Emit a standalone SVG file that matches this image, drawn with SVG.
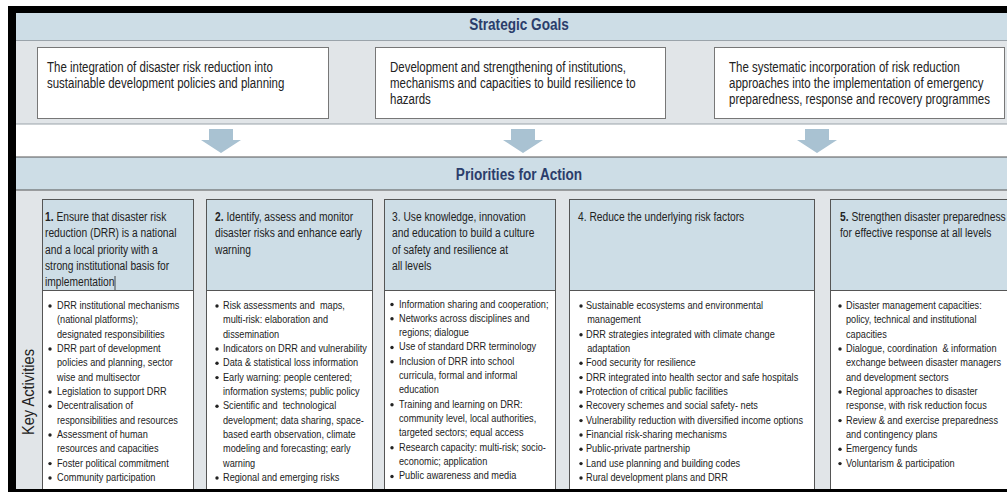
<svg xmlns="http://www.w3.org/2000/svg" width="1007" height="492" viewBox="0 0 1007 492">
<style>
.t{font-family:'Liberation Sans',Arial,sans-serif;fill:#222}
.goal{font-size:14px}
.hd{font-size:12.5px}
.li{font-size:11.2px}
.title{font-family:'Liberation Sans',Arial,sans-serif;font-size:17px;font-weight:bold;fill:#2b3d6b;text-anchor:middle}
.band{fill:#cddde6}
.gbox{fill:#fff;stroke:#777;stroke-width:1}
.phead{fill:#cddde6;stroke:#555;stroke-width:1}
.plist{fill:#fff;stroke:#555;stroke-width:1}
.arrow{fill:#a9c2d2}
.b{fill:#222}
</style>
<defs>
<circle id="bul" r="1.7" class="b"/>
</defs>
<rect x="0" y="0" width="1007" height="492" fill="#fff"/>
<g id="frame">
<rect x="8" y="6" width="999" height="486" fill="#000"/>
<rect x="16" y="13" width="991" height="476" fill="#e1e5e8"/>
<rect x="16" y="13" width="991" height="27" class="band"/>
<line x1="16" y1="40.5" x2="1007" y2="40.5" stroke="#9aa3aa"/>
<rect x="16" y="124" width="991" height="33" fill="#fff"/>
<line x1="16" y1="124" x2="1007" y2="124" stroke="#9aa3aa"/>
<rect x="16" y="157" width="991" height="33" class="band"/>
<line x1="16" y1="157" x2="1007" y2="157" stroke="#555"/>
<line x1="16" y1="190" x2="1007" y2="190" stroke="#555"/>
<text class="title" transform="translate(519,30) scale(0.8,1)">Strategic Goals</text>
<text class="title" transform="translate(519,180) scale(0.8,1)">Priorities for Action</text>
<text class="t" font-size="17" fill="#333" text-anchor="middle" transform="translate(34,392) rotate(-90) scale(0.86,1)">Key Activities</text>
</g>
<g id="goal-1">
<rect x="37.5" y="47.5" width="291" height="71" class="gbox"/>
<text class="t goal" transform="translate(47,71.5) scale(0.82,1)"><tspan x="0">The integration of disaster risk reduction into</tspan><tspan x="0" dy="16.5">sustainable development policies and planning</tspan></text>
</g>
<g id="goal-2">
<rect x="375.5" y="47.5" width="290" height="71" class="gbox"/>
<text class="t goal" transform="translate(390,71.5) scale(0.82,1)"><tspan x="0">Development and strengthening of institutions,</tspan><tspan x="0" dy="16.5">mechanisms and capacities to build resilience to</tspan><tspan x="0" dy="16.5">hazards</tspan></text>
</g>
<g id="goal-3">
<rect x="714.5" y="47.5" width="290" height="71" class="gbox"/>
<text class="t goal" transform="translate(729,71.5) scale(0.82,1)"><tspan x="0">The systematic incorporation of risk reduction</tspan><tspan x="0" dy="16.5">approaches into the implementation of emergency</tspan><tspan x="0" dy="16.5">preparedness, response and recovery programmes</tspan></text>
</g>
<g id="connectors">
<path class="arrow" d="M209,129 H233 V140 H241 L221,153 L201,140 H209 Z"/>
<path class="arrow" d="M511,129 H535 V140 H543 L523,153 L503,140 H511 Z"/>
<path class="arrow" d="M805,129 H829 V140 H837 L817,153 L797,140 H805 Z"/>
</g>
<g id="priority-1">
<rect x="42.5" y="199.5" width="151" height="91" class="phead"/>
<rect x="42.5" y="290.5" width="151" height="200" class="plist"/>
<text class="t hd" transform="translate(45,221) scale(0.82,1)"><tspan x="0" font-weight="bold">1.</tspan><tspan> Ensure that disaster risk</tspan><tspan x="0" dy="16.3">reduction (DRR) is a national</tspan><tspan x="0" dy="16.3">and a local priority with a</tspan><tspan x="0" dy="16.3">strong institutional basis for</tspan><tspan x="0" dy="16.3">implementation</tspan></text>
<line x1="115" y1="276" x2="115" y2="290" stroke="#222" stroke-width="0.8"/>
<use href="#bul" x="50" y="306"/><use href="#bul" x="50" y="349"/><use href="#bul" x="50" y="392"/><use href="#bul" x="50" y="406.3"/><use href="#bul" x="50" y="435"/><use href="#bul" x="50" y="463.6"/><use href="#bul" x="50" y="478"/>
<text class="t li" transform="translate(57,309) scale(0.82,1)"><tspan x="0">DRR institutional mechanisms</tspan><tspan x="0" dy="14.33">(national platforms);</tspan><tspan x="0" dy="14.33">designated responsibilities</tspan><tspan x="0" dy="14.33">DRR part of development</tspan><tspan x="0" dy="14.33">policies and planning, sector</tspan><tspan x="0" dy="14.33">wise and multisector</tspan><tspan x="0" dy="14.33">Legislation to support DRR</tspan><tspan x="0" dy="14.33">Decentralisation of</tspan><tspan x="0" dy="14.33">responsibilities and resources</tspan><tspan x="0" dy="14.33">Assessment of human</tspan><tspan x="0" dy="14.33">resources and capacities</tspan><tspan x="0" dy="14.33">Foster political commitment</tspan><tspan x="0" dy="14.33">Community participation</tspan></text>
</g>
<g id="priority-2">
<rect x="206.5" y="199.5" width="166" height="91" class="phead"/>
<rect x="206.5" y="290.5" width="166" height="200" class="plist"/>
<text class="t hd" transform="translate(215,221) scale(0.82,1)"><tspan x="0" font-weight="bold">2.</tspan><tspan> Identify, assess and monitor</tspan><tspan x="0" dy="16.3">disaster risks and enhance early</tspan><tspan x="0" dy="16.3">warning</tspan></text>
<use href="#bul" x="217" y="306"/><use href="#bul" x="217" y="349"/><use href="#bul" x="217" y="363.3"/><use href="#bul" x="217" y="377.6"/><use href="#bul" x="217" y="406.3"/><use href="#bul" x="217" y="478"/>
<text class="t li" xml:space="preserve" transform="translate(223,309) scale(0.82,1)"><tspan x="0">Risk assessments and  maps,</tspan><tspan x="0" dy="14.33">multi-risk: elaboration and</tspan><tspan x="0" dy="14.33">dissemination</tspan><tspan x="0" dy="14.33">Indicators on DRR and vulnerability</tspan><tspan x="0" dy="14.33">Data &amp; statistical loss information</tspan><tspan x="0" dy="14.33">Early warning: people centered;</tspan><tspan x="0" dy="14.33">information systems; public policy</tspan><tspan x="0" dy="14.33">Scientific and  technological</tspan><tspan x="0" dy="14.33">development; data sharing, space-</tspan><tspan x="0" dy="14.33">based earth observation, climate</tspan><tspan x="0" dy="14.33">modeling and forecasting; early</tspan><tspan x="0" dy="14.33">warning</tspan><tspan x="0" dy="14.33">Regional and emerging risks</tspan></text>
</g>
<g id="priority-3">
<rect x="384.5" y="199.5" width="171" height="91" class="phead"/>
<rect x="384.5" y="290.5" width="171" height="200" class="plist"/>
<text class="t hd" transform="translate(392,221) scale(0.82,1)"><tspan x="0">3. Use knowledge, innovation</tspan><tspan x="0" dy="16.3">and education to build a culture</tspan><tspan x="0" dy="16.3">of safety and resilience at</tspan><tspan x="0" dy="16.3">all levels</tspan></text>
<use href="#bul" x="392" y="304.5"/><use href="#bul" x="392" y="318.8"/><use href="#bul" x="392" y="347.5"/><use href="#bul" x="392" y="361.8"/><use href="#bul" x="392" y="404.8"/><use href="#bul" x="392" y="447.8"/><use href="#bul" x="392" y="476.5"/>
<text class="t li" transform="translate(399,307.5) scale(0.82,1)"><tspan x="0">Information sharing and cooperation;</tspan><tspan x="0" dy="14.33">Networks across disciplines and</tspan><tspan x="0" dy="14.33">regions; dialogue</tspan><tspan x="0" dy="14.33">Use of standard DRR terminology</tspan><tspan x="0" dy="14.33">Inclusion of DRR into school</tspan><tspan x="0" dy="14.33">curricula, formal and informal</tspan><tspan x="0" dy="14.33">education</tspan><tspan x="0" dy="14.33">Training and learning on DRR:</tspan><tspan x="0" dy="14.33">community level, local authorities,</tspan><tspan x="0" dy="14.33">targeted sectors; equal access</tspan><tspan x="0" dy="14.33">Research capacity: multi-risk; socio-</tspan><tspan x="0" dy="14.33">economic; application</tspan><tspan x="0" dy="14.33">Public awareness and media</tspan></text>
</g>
<g id="priority-4">
<rect x="569.5" y="199.5" width="245" height="91" class="phead"/>
<rect x="569.5" y="290.5" width="245" height="200" class="plist"/>
<text class="t hd" transform="translate(578,221) scale(0.82,1)"><tspan x="0">4. Reduce the underlying risk factors</tspan></text>
<use href="#bul" x="581" y="306"/><use href="#bul" x="581" y="334.7"/><use href="#bul" x="581" y="363.3"/><use href="#bul" x="581" y="377.6"/><use href="#bul" x="581" y="392"/><use href="#bul" x="581" y="406.3"/><use href="#bul" x="581" y="420.6"/><use href="#bul" x="581" y="435"/><use href="#bul" x="581" y="449.3"/><use href="#bul" x="581" y="463.6"/><use href="#bul" x="581" y="478"/>
<text class="t li" transform="translate(586,309) scale(0.82,1)"><tspan x="0">Sustainable ecosystems and environmental</tspan><tspan x="1.5" dy="14.33">management</tspan><tspan x="0" dy="14.33">DRR strategies integrated with climate change</tspan><tspan x="1.5" dy="14.33">adaptation</tspan><tspan x="0" dy="14.33">Food security for resilience</tspan><tspan x="0" dy="14.33">DRR integrated into health sector and safe hospitals</tspan><tspan x="0" dy="14.33">Protection of critical public facilities</tspan><tspan x="0" dy="14.33">Recovery schemes and social safety- nets</tspan><tspan x="0" dy="14.33">Vulnerability reduction with diversified income options</tspan><tspan x="0" dy="14.33">Financial risk-sharing mechanisms</tspan><tspan x="0" dy="14.33">Public-private partnership</tspan><tspan x="0" dy="14.33">Land use planning and building codes</tspan><tspan x="0" dy="14.33">Rural development plans and DRR</tspan></text>
</g>
<g id="priority-5">
<rect x="830.5" y="199.5" width="190" height="91" class="phead"/>
<rect x="830.5" y="290.5" width="190" height="200" class="plist"/>
<text class="t hd" transform="translate(840,221) scale(0.82,1)"><tspan x="0" font-weight="bold">5.</tspan><tspan> Strengthen disaster preparedness</tspan><tspan x="0" dy="16.3">for effective response at all levels</tspan></text>
<use href="#bul" x="840" y="306"/><use href="#bul" x="840" y="349"/><use href="#bul" x="840" y="392"/><use href="#bul" x="840" y="420.6"/><use href="#bul" x="840" y="449.3"/><use href="#bul" x="840" y="463.6"/>
<text class="t li" xml:space="preserve" transform="translate(846,309) scale(0.82,1)"><tspan x="0">Disaster management capacities:</tspan><tspan x="0" dy="14.33">policy, technical and institutional</tspan><tspan x="0" dy="14.33">capacities</tspan><tspan x="0" dy="14.33">Dialogue, coordination  &amp; information</tspan><tspan x="0" dy="14.33">exchange between disaster managers</tspan><tspan x="0" dy="14.33">and development sectors</tspan><tspan x="0" dy="14.33">Regional approaches to disaster</tspan><tspan x="0" dy="14.33">response, with risk reduction focus</tspan><tspan x="0" dy="14.33">Review &amp; and exercise preparedness</tspan><tspan x="0" dy="14.33">and contingency plans</tspan><tspan x="0" dy="14.33">Emergency funds</tspan><tspan x="0" dy="14.33">Voluntarism &amp; participation</tspan></text>
</g>
<rect x="8" y="489" width="999" height="3" fill="#000"/>
</svg>
